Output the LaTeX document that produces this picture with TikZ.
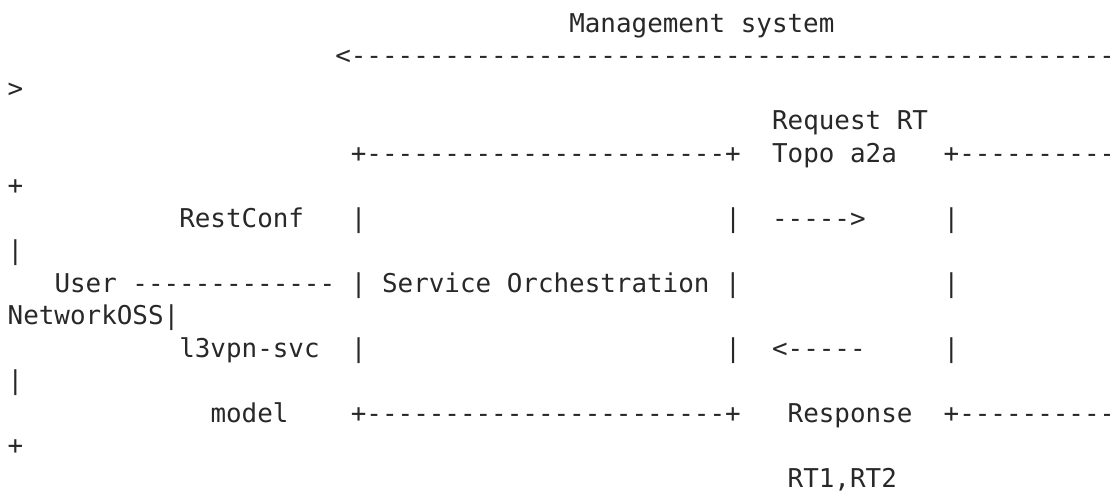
\documentclass[tikz,border=0pt]{standalone}
\usepackage{fontspec}
\setmonofont{DejaVu Sans Mono}
\definecolor{ink}{RGB}{40,40,40}
% character grid: column pitch 15.6, line pitch 32.5 (1 unit = 1pt)
\newcommand\gridcol[1]{7.7+15.6*#1}
\newcommand\gridrow[1]{32.3+32.5*#1}
\tikzset{
  ascii/.style={anchor=base west, inner sep=0pt, outer sep=0pt,
    text=ink, font=\ttfamily\fontsize{25.9}{32.5}\selectfont}
}
\begin{document}
\begin{tikzpicture}[x=1pt,y=-1pt]
\useasboundingbox[fill=white] (0,0) rectangle (1110,491);
% row 0-2: management system span (wrapped)
\node[ascii] (mgmt)  at ({\gridcol{36}},{\gridrow{0}}) {Management system};
\node[ascii] (span)  at ({\gridcol{21}},{\gridrow{1}}) {<-------------------------------------------------};
\node[ascii] (spanr) at ({\gridcol{0}},{\gridrow{2}}) {>};
% row 3-5: box tops and request label
\node[ascii] (req)   at ({\gridcol{49}},{\gridrow{3}}) {Request RT};
\node[ascii] (sotop) at ({\gridcol{22}},{\gridrow{4}}) {+-----------------------+};
\node[ascii] (topo)  at ({\gridcol{49}},{\gridrow{4}}) {Topo a2a};
\node[ascii] (ostop) at ({\gridcol{60}},{\gridrow{4}}) {+----------};
\node[ascii] (ostopr) at ({\gridcol{0}},{\gridrow{5}}) {+};
% row 6-7
\node[ascii] (rest)  at ({\gridcol{11}},{\gridrow{6}}) {RestConf};
\node[ascii] (soa)   at ({\gridcol{22}},{\gridrow{6}}) {|};
\node[ascii] (sob)   at ({\gridcol{46}},{\gridrow{6}}) {|};
\node[ascii] (reqar) at ({\gridcol{49}},{\gridrow{6}}) {----->};
\node[ascii] (osa)   at ({\gridcol{60}},{\gridrow{6}}) {|};
\node[ascii] (osar)  at ({\gridcol{0}},{\gridrow{7}}) {|};
% row 8-9: user, service orchestration, network OSS
\node[ascii] (user)  at ({\gridcol{3}},{\gridrow{8}}) {User -------------};
\node[ascii] (so)    at ({\gridcol{22}},{\gridrow{8}}) {| Service Orchestration |};
\node[ascii] (osb)   at ({\gridcol{60}},{\gridrow{8}}) {|};
\node[ascii] (oss)   at ({\gridcol{0}},{\gridrow{9}}) {NetworkOSS|};
% row 10-11
\node[ascii] (svc)   at ({\gridcol{11}},{\gridrow{10}}) {l3vpn-svc};
\node[ascii] (soc)   at ({\gridcol{22}},{\gridrow{10}}) {|};
\node[ascii] (sod)   at ({\gridcol{46}},{\gridrow{10}}) {|};
\node[ascii] (resar) at ({\gridcol{49}},{\gridrow{10}}) {<-----};
\node[ascii] (osc)   at ({\gridcol{60}},{\gridrow{10}}) {|};
\node[ascii] (oscr)  at ({\gridcol{0}},{\gridrow{11}}) {|};
% row 12-14: box bottoms and response label
\node[ascii] (model) at ({\gridcol{13}},{\gridrow{12}}) {model};
\node[ascii] (sobot) at ({\gridcol{22}},{\gridrow{12}}) {+-----------------------+};
\node[ascii] (resp)  at ({\gridcol{50}},{\gridrow{12}}) {Response};
\node[ascii] (osbot) at ({\gridcol{60}},{\gridrow{12}}) {+----------};
\node[ascii] (osbotr) at ({\gridcol{0}},{\gridrow{13}}) {+};
\node[ascii] (rts)   at ({\gridcol{50}},{\gridrow{14}}) {RT1,RT2};
\end{tikzpicture}
\end{document}
